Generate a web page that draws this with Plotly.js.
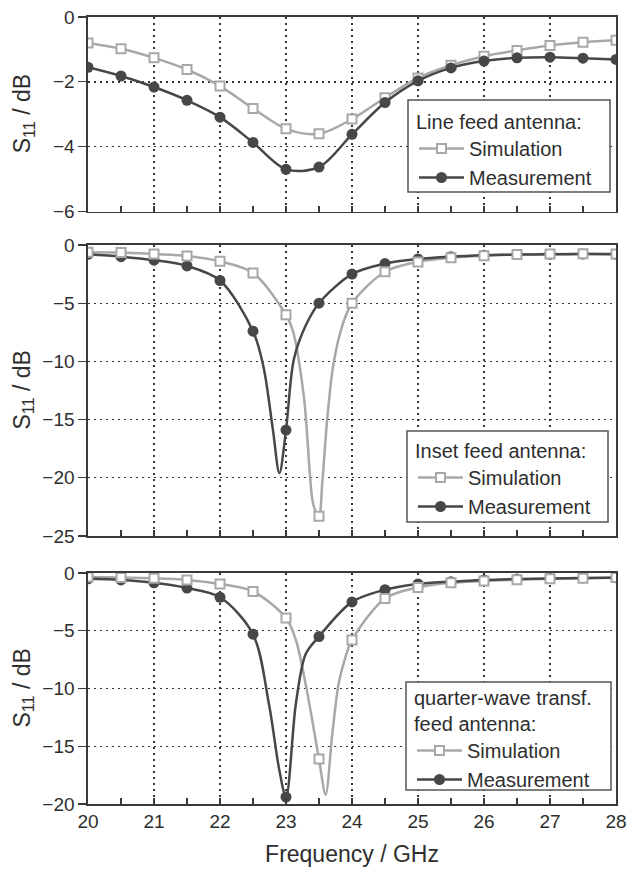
<!DOCTYPE html>
<html>
<head>
<meta charset="utf-8">
<script src="https://cdn.plot.ly/plotly-3.0.1.min.js"></script>
<style>html,body{margin:0;padding:0;background:#fff;}#chart{width:628px;height:869px;}</style>
</head>
<body>
<div id="chart"></div>
<script>
// Frequencies of the markers (GHz)
const freq = [20,20.5,21,21.5,22,22.5,23,23.5,24,24.5,25,25.5,26,26.5,27,27.5,28];

// Panel 1: Line feed antenna (S11 in dB)
const lineSim  = [-0.80,-0.98,-1.26,-1.62,-2.13,-2.82,-3.45,-3.60,-3.15,-2.49,-1.88,-1.49,-1.21,-1.03,-0.88,-0.78,-0.72];
const lineMeas = [-1.55,-1.82,-2.16,-2.57,-3.09,-3.87,-4.70,-4.63,-3.62,-2.64,-1.97,-1.57,-1.36,-1.26,-1.24,-1.27,-1.31];

// Panel 2: Inset feed antenna
const insetSim  = [-0.63,-0.65,-0.78,-0.94,-1.40,-2.40,-6.0,-23.3,-5.0,-2.3,-1.45,-1.1,-0.92,-0.82,-0.78,-0.76,-0.78];
const insetMeas = [-0.8,-1.0,-1.3,-1.8,-3.05,-7.4,-15.9,-5.0,-2.5,-1.6,-1.2,-1.0,-0.88,-0.82,-0.8,-0.78,-0.8];
// extra curve points between markers (resonance dips)
const insetSimDipF  = [23.1,23.27,23.4,23.45,23.55,23.63,23.72,23.86];
const insetSimDipV  = [-7.3,-13.0,-21.9,-22.9,-20.4,-14.6,-10.2,-6.8];
const insetMeasDipF = [22.66,22.8,22.9,23.12,23.3];
const insetMeasDipV = [-10.5,-15.8,-19.6,-9.8,-6.9];

// Panel 3: quarter-wave transformer feed antenna
const qwSim  = [-0.35,-0.38,-0.45,-0.6,-0.95,-1.6,-3.9,-16.1,-5.8,-2.2,-1.25,-0.85,-0.7,-0.58,-0.5,-0.45,-0.4];
const qwMeas = [-0.5,-0.6,-0.85,-1.3,-2.1,-5.3,-19.4,-5.5,-2.5,-1.45,-0.95,-0.75,-0.6,-0.52,-0.47,-0.43,-0.42];
const qwSimDipF  = [23.15,23.3,23.6,23.7,23.8,23.9];
const qwSimDipV  = [-5.8,-9.7,-19.2,-14.0,-9.5,-7.3];
const qwMeasDipF = [22.74,22.9,23.15,23.3];
const qwMeasDipV = [-11.3,-17.1,-11.3,-7.0];

const legendTitles = ['Line feed antenna:', 'Inset feed antenna:', 'quarter-wave transf.<br>feed antenna:'];
const seriesNames = ['Simulation', 'Measurement'];

const simColor = '#a8a8a8', measColor = '#474747';
const textColor = '#2e2e2e', axColor = '#3a3a3a';

function merge(fx, fy, ex, ey) {
  const pts = fx.map((x,i)=>[x,fy[i]]).concat(ex.map((x,i)=>[x,ey[i]]));
  pts.sort((a,b)=>a[0]-b[0]);
  return {x: pts.map(p=>p[0]), y: pts.map(p=>p[1])};
}

const simMarker  = {symbol:'square', size:9, color:'#ffffff', line:{color:simColor, width:2}};
const measMarker = {symbol:'circle', size:11, color:measColor, line:{color:measColor, width:0}};
const simLine  = {color:simColor, width:2.5, shape:'spline', smoothing:0.9};
const measLine = {color:measColor, width:2.5, shape:'spline', smoothing:0.9};

const traces = [];
// ---- top panel (x3,y3) ----
traces.push({x:freq, y:lineSim, xaxis:'x3', yaxis:'y3', mode:'lines+markers', line:simLine, marker:simMarker, showlegend:false, hoverinfo:'skip'});
traces.push({x:freq, y:lineMeas, xaxis:'x3', yaxis:'y3', mode:'lines+markers', line:measLine, marker:measMarker, showlegend:false, hoverinfo:'skip'});

// ---- middle panel (x2,y2) ----
const isl = merge(freq, insetSim, insetSimDipF, insetSimDipV);
const iml = merge(freq, insetMeas, insetMeasDipF, insetMeasDipV);
traces.push({x:isl.x, y:isl.y, xaxis:'x2', yaxis:'y2', mode:'lines', line:simLine, showlegend:false, hoverinfo:'skip'});
traces.push({x:iml.x, y:iml.y, xaxis:'x2', yaxis:'y2', mode:'lines', line:measLine, showlegend:false, hoverinfo:'skip'});
traces.push({x:freq, y:insetMeas, xaxis:'x2', yaxis:'y2', mode:'markers', marker:measMarker, showlegend:false, hoverinfo:'skip'});
traces.push({x:freq, y:insetSim, xaxis:'x2', yaxis:'y2', mode:'markers', marker:simMarker, showlegend:false, hoverinfo:'skip'});

// ---- bottom panel (x,y) ----
const qsl = merge(freq, qwSim, qwSimDipF, qwSimDipV);
const qml = merge(freq, qwMeas, qwMeasDipF, qwMeasDipV);
traces.push({x:qsl.x, y:qsl.y, xaxis:'x', yaxis:'y', mode:'lines', line:simLine, showlegend:false, hoverinfo:'skip'});
traces.push({x:qml.x, y:qml.y, xaxis:'x', yaxis:'y', mode:'lines', line:measLine, showlegend:false, hoverinfo:'skip'});
traces.push({x:freq, y:qwMeas, xaxis:'x', yaxis:'y', mode:'markers', marker:measMarker, showlegend:false, hoverinfo:'skip'});
traces.push({x:freq, y:qwSim, xaxis:'x', yaxis:'y', mode:'markers', marker:simMarker, showlegend:false, hoverinfo:'skip'});

// ---- legend entries ----
const legendIds = ['legend', 'legend2', 'legend3'];
const axPairs = [['x3','y3'],['x2','y2'],['x','y']];
legendIds.forEach((lg, i) => {
  traces.push({x:[null], y:[null], xaxis:axPairs[i][0], yaxis:axPairs[i][1], mode:'lines+markers', name:seriesNames[0], line:{color:simColor,width:2.5}, marker:simMarker, legend:lg});
  traces.push({x:[null], y:[null], xaxis:axPairs[i][0], yaxis:axPairs[i][1], mode:'lines+markers', name:seriesNames[1], line:{color:measColor,width:2.5}, marker:measMarker, legend:lg});
});

// layout geometry in pixels
const W = 628, H = 869, L = 88, R = 12, T = 17, B = 65;
const plotH = H - T - B, plotW = W - L - R;
const py = v => (H - B - v) / plotH;   // pixel y -> paper y
const px = v => (v - L) / plotW;       // pixel x -> paper x

const font = {family:'"Liberation Sans", Arial, sans-serif', color:textColor};

function xax(showLabels, anchor) {
  return {
    range:[20,28], tick0:20, dtick:1, anchor:anchor,
    ticks:'inside', ticklen:6, tickwidth:1.3, tickcolor:axColor,
    minor:{dtick:0.5, ticks:'inside', ticklen:6, tickwidth:1.3, tickcolor:axColor, showgrid:false},
    showline:true, linecolor:axColor, linewidth:1.6, mirror:true,
    showgrid:true, gridcolor:'#333', gridwidth:1.4, griddash:'1.5px,4.5px',
    zeroline:false, showticklabels:showLabels,
    tickfont:{size:19, color:textColor}, fixedrange:true
  };
}
function yax(range, dtick, domain, anchor) {
  return {
    range:range, dtick:dtick, domain:domain, anchor:anchor,
    ticks:'outside', ticklen:8, tickwidth:1.3, tickcolor:axColor,
    showline:true, linecolor:axColor, linewidth:1.6, mirror:true,
    showgrid:true, gridcolor:'#333', gridwidth:1.4, griddash:'1.5px,4.5px',
    zeroline:false, tickfont:{size:19, color:textColor}, fixedrange:true
  };
}

const domTop = [py(211.5), 1];
const domMid = [py(536), py(245)];
const domBot = [0, py(573)];

// legend frames (pixel boxes: left, right, top, bottom)
const legendBoxes = [[408,610,100,192],[407,608,431,522],[406,611,682,790]];
const legendTops = [103, 432, 679];

function legendCfg(i) {
  return {
    x: px(legendBoxes[i][0] + 6), xanchor:'left', y: py(legendTops[i]), yanchor:'top',
    bgcolor:'rgba(0,0,0,0)', borderwidth:0,
    font:{family:font.family, size:20, color:textColor},
    title:{text:legendTitles[i], font:{family:font.family, size:20, color:textColor}},
    itemwidth:45, tracegroupgap:0
  };
}

const shapes = legendBoxes.map(b => ({
  type:'rect', xref:'paper', yref:'paper', layer:'above',
  x0:px(b[0]), x1:px(b[1]), y0:py(b[3]), y1:py(b[2]),
  fillcolor:'#ffffff', line:{color:'#555', width:1.5}
}));

const ytitle = 'S<sub>11</sub> / dB';
const layout = {
  width:W, height:H,
  margin:{l:L, r:R, t:T, b:B},
  paper_bgcolor:'#ffffff', plot_bgcolor:'#ffffff',
  font:font,
  showlegend:true,
  xaxis: Object.assign(xax(true, 'y'), {title:{text:'Frequency / GHz', font:{size:23, color:textColor}, standoff:14}}),
  yaxis: yax([-20,0], 5, domBot, 'x'),
  xaxis2: xax(false, 'y2'),
  yaxis2: yax([-25,0], 5, domMid, 'x2'),
  xaxis3: xax(false, 'y3'),
  yaxis3: yax([-6,0], 2, domTop, 'x3'),
  legend: legendCfg(0),
  legend2: legendCfg(1),
  legend3: legendCfg(2),
  shapes: shapes,
  annotations: [
    {text:ytitle, xref:'paper', yref:'paper', x:px(23), y:(domTop[0]+domTop[1])/2, xanchor:'center', yanchor:'middle', textangle:-90, showarrow:false, font:{size:23, color:textColor}},
    {text:ytitle, xref:'paper', yref:'paper', x:px(23), y:(domMid[0]+domMid[1])/2, xanchor:'center', yanchor:'middle', textangle:-90, showarrow:false, font:{size:23, color:textColor}},
    {text:ytitle, xref:'paper', yref:'paper', x:px(23), y:(domBot[0]+domBot[1])/2, xanchor:'center', yanchor:'middle', textangle:-90, showarrow:false, font:{size:23, color:textColor}}
  ]
};

Plotly.newPlot('chart', traces, layout, {staticPlot:true, displayModeBar:false});
</script>
</body>
</html>
